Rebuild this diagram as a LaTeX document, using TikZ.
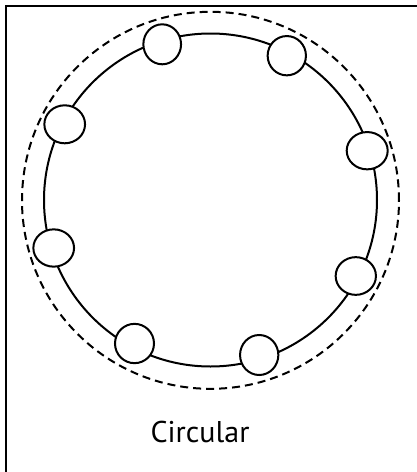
\documentclass[tikz,border=0pt]{standalone}
\usepackage{fontspec}
\setmainfont{PT Sans}
\usetikzlibrary{shapes.geometric}
\begin{document}
\begin{tikzpicture}[x=1pt,y=-1pt,
  ringline/.style={draw=black, line width=2pt},
  dashring/.style={draw=black, line width=2pt, dash pattern=on 8pt off 5pt},
  member/.style={ellipse, draw=black, line width=2pt, fill=white, inner sep=0pt}]
\useasboundingbox (0,0) rectangle (417,472);
\clip (0,0) rectangle (417,472);
\draw[line width=2.5pt] (6,6) rectangle (440,500);
\node[circle, dashring, minimum size=377pt, inner sep=0pt] (outer) at (210.5,200.3) {};
\node[circle, ringline, minimum size=333pt, inner sep=0pt] (ring) at (210.5,200) {};
\node[member, minimum width=37.7pt, minimum height=40pt] (n1) at (162.2,44.3) {};
\node[member, minimum width=38.3pt, minimum height=39.3pt] (n2) at (286.8,55.7) {};
\node[member, minimum width=40.7pt, minimum height=38pt] (n3) at (64.7,124.3) {};
\node[member, minimum width=41pt, minimum height=37.3pt] (n4) at (367.2,150.7) {};
\node[member, minimum width=40.7pt, minimum height=37.3pt] (n5) at (53.7,248) {};
\node[member, minimum width=40.3pt, minimum height=37.7pt] (n6) at (355.8,276) {};
\node[member, minimum width=39pt, minimum height=39.3pt] (n7) at (134.5,343.5) {};
\node[member, minimum width=38.3pt, minimum height=40pt] (n8) at (259.2,355) {};
\node[font=\fontsize{30}{35}\selectfont, anchor=base, inner sep=0pt] (label) at (200,442.7) {Circular};
\end{tikzpicture}
\end{document}
